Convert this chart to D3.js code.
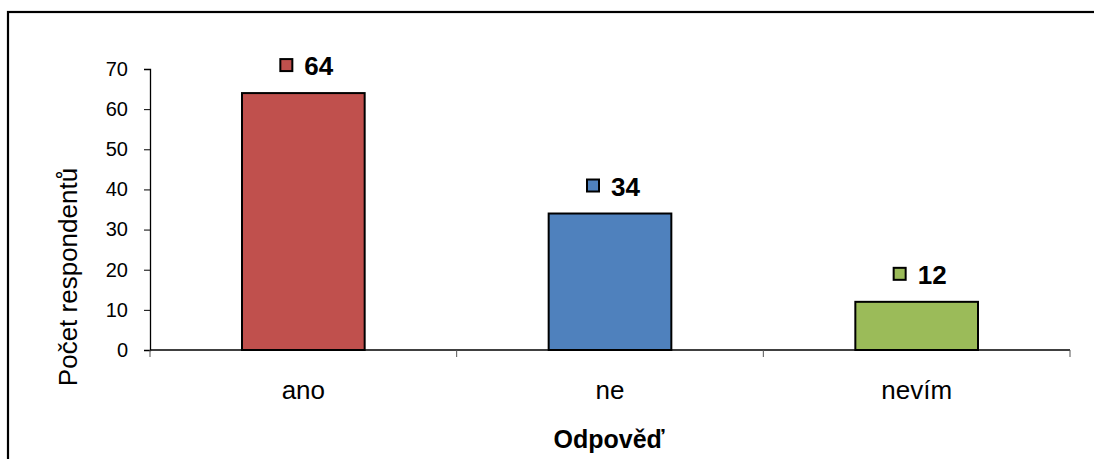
<!DOCTYPE html>
<html>
<head>
<meta charset="utf-8">
<script src="https://cdn.jsdelivr.net/npm/d3@7/dist/d3.min.js"></script>
<style>
  html, body { margin: 0; padding: 0; background: #fff; }
  svg { display: block; font-family: Arial, "Liberation Sans", sans-serif; }
</style>
</head>
<body>
<svg id="chart" width="1094" height="459"></svg>
<script>
// Survey answers and respondent counts
const categories = ["ano", "ne", "nevím"];
const counts = [64, 34, 12];
const barColors = ["#C0504D", "#4F81BD", "#9BBB59"];
const yTicks = [0, 10, 20, 30, 40, 50, 60, 70];
const yTitle = "Počet respondentů";
const xTitle = "Odpověď";

const svg = d3.select("#chart");
const W = 1094, H = 459;

// Outer frame (runs off the right and bottom edges)
svg.append("rect")
  .attr("x", 8).attr("y", 12)
  .attr("width", W).attr("height", H)
  .attr("fill", "none").attr("stroke", "#000").attr("stroke-width", 2.2);

const plot = { left: 150, right: 1070, top: 69, bottom: 350 };

const x = d3.scaleBand()
  .domain(categories)
  .range([plot.left, plot.right])
  .paddingInner(0.6)
  .paddingOuter(0.3);

const y = d3.scaleLinear()
  .domain([0, 70])
  .range([plot.bottom, plot.top]);

// Y axis
const yAxis = svg.append("g")
  .attr("transform", `translate(${plot.left},0)`)
  .call(d3.axisLeft(y).tickValues(yTicks).tickSize(6).tickPadding(16).tickFormat(d3.format("d")));
yAxis.select(".domain").attr("stroke", "#000").attr("stroke-width", 1.3);
yAxis.selectAll(".tick line").attr("stroke", "#000").attr("stroke-width", 1);
yAxis.selectAll(".tick text")
  .attr("fill", "#000")
  .style("font-size", "20px");

// X axis: tick marks sit on category boundaries
const step = x.step();
const boundaries = d3.range(categories.length + 1).map(i => plot.left + i * step);
const xAxisG = svg.append("g");
xAxisG.append("line")
  .attr("x1", plot.left).attr("x2", plot.right)
  .attr("y1", plot.bottom).attr("y2", plot.bottom)
  .attr("stroke", "#000").attr("stroke-width", 1.3);
xAxisG.selectAll("line.b")
  .data(boundaries)
  .join("line")
  .attr("class", "b")
  .attr("x1", d => d).attr("x2", d => d)
  .attr("y1", plot.bottom).attr("y2", plot.bottom + 7)
  .attr("stroke", "#555").attr("stroke-width", 1);
xAxisG.selectAll("text.cat")
  .data(categories)
  .join("text")
  .attr("class", "cat")
  .attr("x", d => x(d) + x.bandwidth() / 2)
  .attr("y", 399)
  .attr("text-anchor", "middle")
  .style("font-size", "26px")
  .attr("fill", "#000")
  .text(d => d);

// Bars
const data = categories.map((c, i) => ({ cat: c, value: counts[i], color: barColors[i] }));
svg.selectAll("rect.bar")
  .data(data)
  .join("rect")
  .attr("class", "bar")
  .attr("x", d => x(d.cat))
  .attr("y", d => y(d.value))
  .attr("width", x.bandwidth())
  .attr("height", d => y(0) - y(d.value))
  .attr("fill", d => d.color)
  .attr("stroke", "#000")
  .attr("stroke-width", 2);

// Value labels with colour key
const labels = svg.selectAll("g.lbl")
  .data(data)
  .join("g")
  .attr("class", "lbl")
  .attr("transform", d => `translate(${x(d.cat) + x.bandwidth() / 2},${y(d.value)})`);
labels.append("rect")
  .attr("x", -23).attr("y", -34)
  .attr("width", 12).attr("height", 12)
  .attr("fill", d => d.color)
  .attr("stroke", "#000").attr("stroke-width", 2);
labels.append("text")
  .attr("x", 1).attr("y", -18)
  .style("font-size", "26px")
  .style("font-weight", "bold")
  .attr("fill", "#000")
  .text(d => d.value);

// Axis titles
svg.append("text")
  .attr("transform", "translate(77,277) rotate(-90)")
  .attr("text-anchor", "middle")
  .style("font-size", "26px")
  .attr("fill", "#000")
  .text(yTitle);

svg.append("text")
  .attr("x", 609).attr("y", 448)
  .attr("text-anchor", "middle")
  .style("font-size", "25px")
  .style("font-weight", "bold")
  .attr("fill", "#000")
  .text(xTitle);
</script>
</body>
</html>
